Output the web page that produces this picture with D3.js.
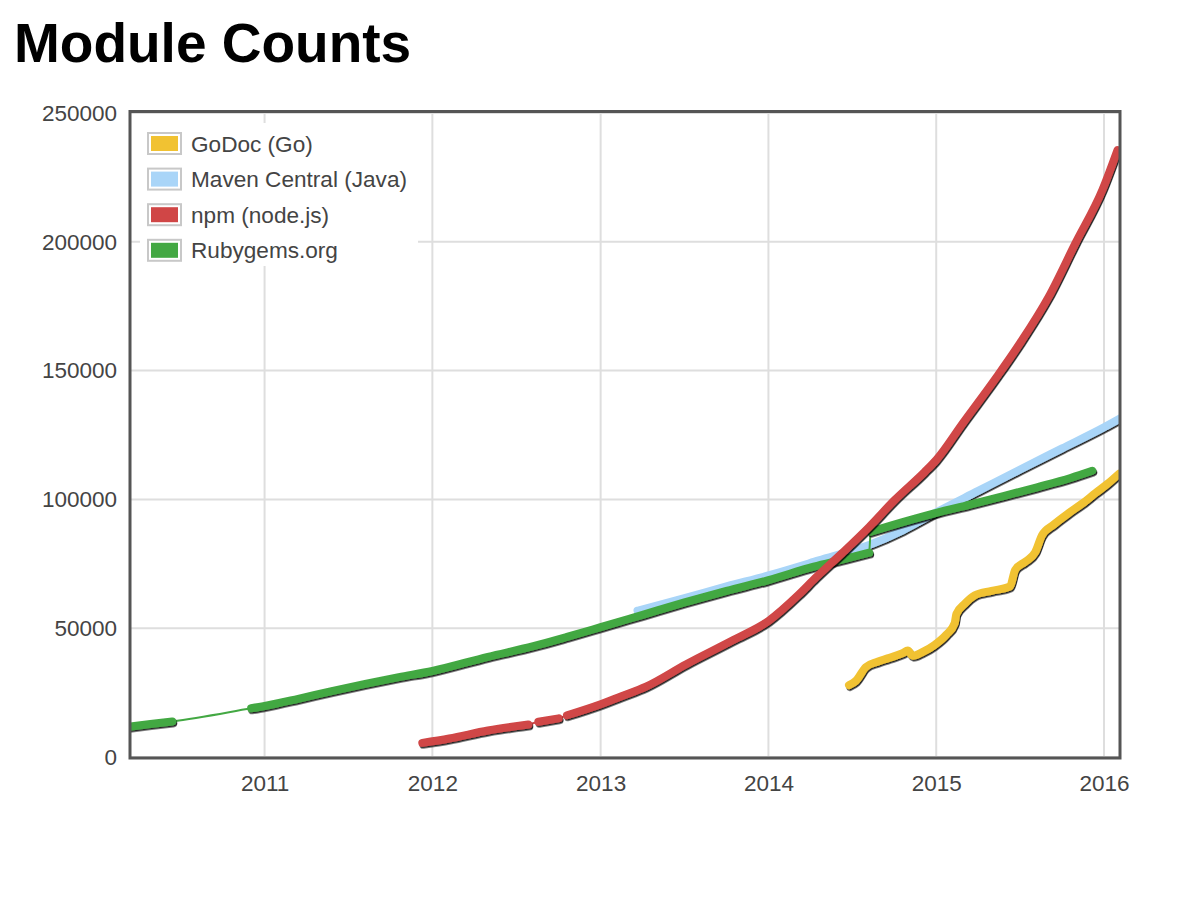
<!DOCTYPE html>
<meta charset="utf-8">
<html>
<head>
  <script src="https://d3js.org/d3.v7.min.js"></script>
  <style>
    body { margin: 0; background: #fff; font-family: "Liberation Sans", Arial, Helvetica, sans-serif; }
  </style>
</head>
<body>
<div id="chart"></div>

<script>
  // series names (legend order)
  const seriesNames = ["GoDoc (Go)", "Maven Central (Java)", "npm (node.js)", "Rubygems.org"];

  // [decimal year, module count]; null = gap in the data
  const godoc = [
    [2014.48, 27900], [2014.52, 29500], [2014.58, 34900], [2014.65, 37000], [2014.71, 38300],
    [2014.8, 40300], [2014.83, 41300], [2014.86, 39300], [2014.92, 40800], [2014.99, 43500],
    [2015.06, 47500], [2015.11, 52000], [2015.12, 55500], [2015.17, 59500], [2015.23, 62800],
    [2015.33, 64500], [2015.44, 66200], [2015.47, 72600], [2015.53, 75800], [2015.59, 79500],
    [2015.63, 86000], [2015.7, 90200], [2015.79, 94700], [2015.87, 98400], [2015.95, 102500],
    [2016.02, 106000], [2016.09, 110000]
  ];
  const maven = [
    [2013.22, 56800], [2013.5, 61700], [2013.75, 66200], [2014.0, 70500], [2014.3, 76300],
    [2014.6, 82300], [2014.8, 88000], [2015.0, 95000], [2015.25, 103300], [2015.5, 111600],
    [2015.75, 119800], [2016.0, 128000], [2016.1, 131600]
  ];
  const npm = [
    [2011.94, 5500], [2012.1, 7200], [2012.33, 10300], [2012.57, 12600], null,
    [2012.63, 13700], [2012.75, 15000], null,
    [2012.8, 16200], [2013.0, 20500], [2013.12, 23500], [2013.27, 27300], [2013.51, 36000],
    [2013.79, 45400], [2014.0, 52800], [2014.18, 63000], [2014.28, 69500], [2014.44, 79200],
    [2014.6, 89300], [2014.75, 99600], [2014.93, 110600], [2015.0, 115300], [2015.16, 129700],
    [2015.36, 147500], [2015.5, 160700], [2015.67, 178600], [2015.83, 199500], [2015.99, 220100],
    [2016.08, 235600]
  ];
  const rubygems = [
    [2010.15, 11400], [2010.32, 12800], [2010.45, 13800], null,
    [2010.92, 18900], [2011.0, 19800], [2011.2, 22600], [2011.4, 25600], [2011.6, 28400],
    [2011.8, 31000], [2012.0, 33400], [2012.33, 38900], [2012.6, 43000], [2012.8, 46600],
    [2013.0, 50400], [2013.25, 55200], [2013.5, 60000], [2013.75, 64500], [2014.0, 68700],
    [2014.27, 73900], [2014.45, 76800], [2014.6, 79300], null,
    [2014.61, 87500], [2014.8, 91200], [2015.0, 94800], [2015.2, 98000], [2015.4, 101300],
    [2015.6, 104700], [2015.8, 108300], [2015.93, 111100]
  ];

  const yTicks = [0, 50000, 100000, 150000, 200000, 250000];
  const xTickYears = [2011, 2012, 2013, 2014, 2015, 2016];

  const colors = ["#f1c232", "#a9d5f8", "#d04646", "#43a843"];
  const seriesData = [godoc, maven, npm, rubygems];
  const drawOrder = [0, 1, 3, 2];

  // decimal year -> Date
  function toDate(t) {
    const y = Math.floor(t);
    const start = new Date(y, 0, 1), end = new Date(y + 1, 0, 1);
    return new Date(+start + (t - y) * (end - start));
  }

  const W = 1187, H = 900;
  const plot = {left: 130, right: 1120, top: 112, bottom: 758};

  const svg = d3.select("#chart").append("svg")
    .attr("width", W).attr("height", H);

  const defs = svg.append("defs");
  defs.append("clipPath").attr("id", "clip")
    .append("rect")
      .attr("x", plot.left).attr("y", plot.top)
      .attr("width", plot.right - plot.left).attr("height", plot.bottom - plot.top);
  defs.append("filter").attr("id", "shadow")
      .attr("x", "-5%").attr("y", "-5%").attr("width", "110%").attr("height", "120%")
    .append("feDropShadow")
      .attr("dx", 1).attr("dy", 1.6).attr("stdDeviation", 0.6)
      .attr("flood-color", "#000").attr("flood-opacity", 0.85);

  // title
  svg.append("text")
    .attr("x", 14).attr("y", 62)
    .style("font-size", "55px").style("font-weight", "bold")
    .text("Module Counts");

  // scales
  const x = d3.scaleTime()
    .domain([toDate(2010.198), toDate(2016.095)])
    .range([plot.left, plot.right]);
  const y = d3.scaleLinear()
    .domain([0, 250000])
    .range([757, 113]);

  // grid
  svg.append("g").selectAll("line.h")
    .data(yTicks)
    .join("line")
      .attr("x1", plot.left).attr("x2", plot.right)
      .attr("y1", d => y(d)).attr("y2", d => y(d))
      .attr("stroke", "#dedede").attr("stroke-width", 2);
  svg.append("g").selectAll("line.v")
    .data(xTickYears)
    .join("line")
      .attr("x1", d => x(toDate(d))).attr("x2", d => x(toDate(d)))
      .attr("y1", plot.top).attr("y2", plot.bottom)
      .attr("stroke", "#dedede").attr("stroke-width", 2);

  // axes (labels only, like the original)
  const yAxis = svg.append("g")
    .attr("transform", `translate(${plot.left},0)`)
    .call(d3.axisLeft(y).tickValues(yTicks).tickFormat(d3.format("d")).tickSize(0).tickPadding(13));
  const xAxis = svg.append("g")
    .attr("transform", `translate(0,${plot.bottom})`)
    .call(d3.axisBottom(x).tickValues(xTickYears.map(toDate)).tickFormat(d3.timeFormat("%Y")).tickSize(0).tickPadding(17));
  [yAxis, xAxis].forEach(a => {
    a.select(".domain").remove();
    a.selectAll("text")
      .style("font-family", "'Liberation Sans', Arial, sans-serif")
      .style("font-size", "22.5px").attr("fill", "#444");
  });

  // lines
  const thinLine = d3.line()
    .x(d => x(toDate(d[0]))).y(d => y(d[1]))
    .curve(d3.curveMonotoneX);
  const thickLine = d3.line()
    .defined(d => d !== null)
    .x(d => x(toDate(d[0]))).y(d => y(d[1]))
    .curve(d3.curveMonotoneX);

  const lines = svg.append("g").attr("clip-path", "url(#clip)");
  drawOrder.forEach(i => {
    const data = seriesData[i];
    lines.append("path")
      .attr("d", thinLine(data.filter(d => d !== null)))
      .attr("fill", "none")
      .attr("stroke", colors[i])
      .attr("stroke-width", 2);
    lines.append("path")
      .attr("d", thickLine(data))
      .attr("fill", "none")
      .attr("stroke", colors[i])
      .attr("stroke-width", 8)
      .attr("stroke-linecap", "round")
      .attr("stroke-linejoin", "round")
      .attr("filter", "url(#shadow)");
  });

  // legend
  const legend = svg.append("g");
  legend.append("rect")
    .attr("x", 140).attr("y", 123).attr("width", 278).attr("height", 143)
    .attr("fill", "#fff");
  const rows = legend.selectAll("g.row")
    .data(seriesNames)
    .join("g")
      .attr("transform", (d, i) => `translate(147,${132 + i * 35.6})`);
  rows.append("rect")
    .attr("x", 1).attr("y", 1).attr("width", 33).attr("height", 21)
    .attr("fill", "#fff").attr("stroke", "#c8c8c8").attr("stroke-width", 2);
  rows.append("rect")
    .attr("x", 4).attr("y", 4).attr("width", 27).attr("height", 15)
    .attr("fill", (d, i) => colors[i]);
  rows.append("text")
    .attr("x", 44).attr("y", 19.5)
    .style("font-size", "22.6px").attr("fill", "#444")
    .text(d => d);

  // frame
  svg.append("rect")
    .attr("x", plot.left).attr("y", 111.5)
    .attr("width", plot.right - plot.left).attr("height", plot.bottom - 111.5)
    .attr("fill", "none").attr("stroke", "#555").attr("stroke-width", 3);
</script>
</body>
</html>
